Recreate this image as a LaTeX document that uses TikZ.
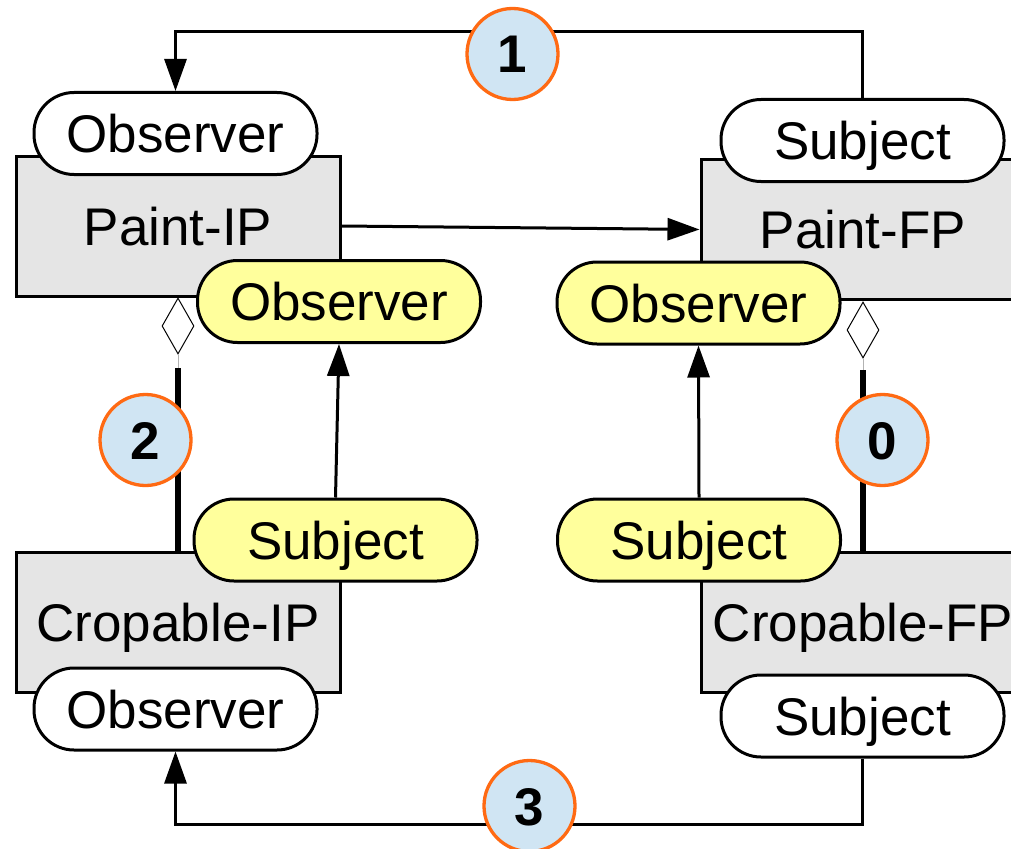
\documentclass[tikz,border=0pt]{standalone}
\usepackage{fontspec}
\setmainfont{Liberation Sans}
\usetikzlibrary{arrows.meta,shapes.geometric}
\definecolor{boxgray}{HTML}{E5E5E5}
\definecolor{pillyellow}{HTML}{FFFF9C}
\definecolor{circblue}{HTML}{D0E5F3}
\definecolor{circorange}{HTML}{FF6A13}
\begin{document}
\begin{tikzpicture}[x=1pt,y=-1pt,
  txt/.style={font=\fontsize{53}{60}\selectfont, text height=38pt, text depth=0pt},
  box/.style={txt, draw=black, line width=3pt, fill=boxgray, minimum width=324pt, minimum height=140pt, inner sep=0pt},
  pill/.style={txt, draw=black, line width=3pt, rounded corners=40pt, minimum width=283pt, minimum height=82pt, inner sep=0pt},
  num/.style={circle, draw=circorange, line width=3.3pt, fill=circblue, minimum size=91pt, inner sep=0pt, font=\fontsize{53}{60}\selectfont\bfseries, text height=38pt, text depth=0pt},
  conn/.style={draw=black, line width=3pt},
  arr/.style={conn, -{Triangle[length=32pt,width=22pt]}},
  dmd/.style={diamond, draw=black, line width=1pt, fill=white, minimum width=32pt, minimum height=56pt, inner sep=0pt},
  thick comp/.style={draw=black, line width=6pt},
  thin comp/.style={draw=black!30, line width=1pt}
]
\useasboundingbox (0,0) rectangle (1011,848);
\fill[white] (0,0) rectangle (1011,848);

% component boxes
\node[box] (pip) at (178,226) {Paint-IP};
\node[box] (pfp) at (863,229.5) {Paint-FP};
\node[box] (cip) at (178,622.5) {Cropable-IP};
\node[box] (cfp) at (863,622) {Cropable-FP};

% ports
\node[pill,fill=white] (o1) at (175.5,133.5) {Observer};
\node[pill,fill=white] (s1) at (862.5,140.5) {Subject};
\node[pill,fill=pillyellow] (yo1) at (339,301.5) {Observer};
\node[pill,fill=pillyellow] (yo2) at (698.5,303) {Observer};
\node[pill,fill=pillyellow] (ys1) at (335.5,540) {Subject};
\node[pill,fill=pillyellow] (ys2) at (699,540) {Subject};
\node[pill,fill=white] (o2) at (175.5,709) {Observer};
\node[pill,fill=white] (s2) at (862.5,716) {Subject};

% composition diamonds
\node[dmd] (d1) at (178,326) {};
\node[dmd] (d2) at (863,330) {};
\coordinate (k1) at (178,368);
\coordinate (k2) at (863,370);
\draw[thin comp] (d1.south) -- (k1);
\draw[thick comp] (k1) -- (cip.north);
\draw[thin comp] (d2.south) -- (k2);
\draw[thick comp] (k2) -- (cfp.north);

% connectors
\coordinate (t1) at (512,32);
\coordinate (t3) at (529,824);
\draw[arr] (pip.east) -- (pfp.west);
\draw[arr] (ys1.north) -- (yo1.south);
\draw[arr] (ys2.north) -- (yo2.south);
\draw[arr] (s1.north) -- (s1.north |- t1) -| (o1.north);
\draw[arr] (s2.south) -- (s2.south |- t3) -| (o2.south);

% step numbers
\node[num] (n1) at (512.5,54) {1};
\node[num] (n2) at (145.5,440) {2};
\node[num] (n0) at (882.5,440) {0};
\node[num] (n3) at (529.5,806) {3};
\end{tikzpicture}
\end{document}
